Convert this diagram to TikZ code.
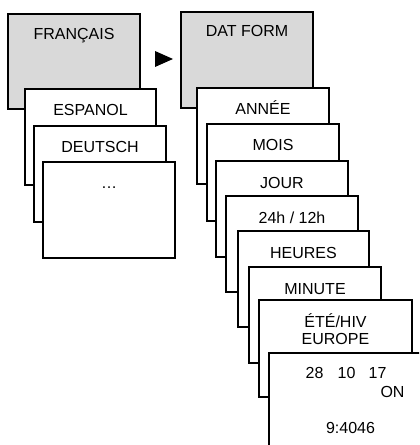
\documentclass[tikz,border=0pt]{standalone}
\usepackage{fontspec}
\setmainfont{Liberation Sans}
\definecolor{boxgray}{RGB}{217,217,217}
\tikzset{
  box/.style={draw=black, line width=1.6bp, fill=white, inner sep=0pt, outer sep=0pt, anchor=north west},
  gbox/.style={box, fill=boxgray},
  lbl/.style={anchor=base, inner sep=0pt, font=\fontsize{16bp}{18bp}\selectfont}
}
\begin{document}
\begin{tikzpicture}[x=1bp,y=-1bp]
\useasboundingbox (0,0) rectangle (419,445);
\clip (0,0) rectangle (419,445);
% left stack
\node[gbox, minimum width=132bp, minimum height=95bp] (fr) at (8,14) {};
\node[lbl] (tfr) at ([yshift=-26bp]fr.north) {FRANÇAIS};
\node[box, minimum width=131bp, minimum height=96bp] (es) at (25,89) {};
\node[lbl] (tes) at ([yshift=-27bp]es.north) {ESPANOL};
\node[box, minimum width=132bp, minimum height=96bp] (de) at (34,126) {};
\node[lbl] (tde) at ([yshift=-27bp]de.north) {DEUTSCH};
\node[box, minimum width=132bp, minimum height=96bp] (etc) at (43,162) {};
\node[lbl] (tetc) at ([yshift=-26bp]etc.north) {…};
% arrow
\coordinate (a1) at (155,51);
\coordinate (a2) at (155,67);
\coordinate (a3) at (173,59);
\fill[black] (a1) -- (a3) -- (a2) -- cycle;
% right stack
\node[gbox, minimum width=132bp, minimum height=96bp] (dat) at (181,12) {};
\node[lbl] (tdat) at ([yshift=-25bp]dat.north) {DAT FORM};
\node[box, minimum width=132bp, minimum height=96bp] (an) at (197,88) {};
\node[lbl] (tan) at ([yshift=-27bp]an.north) {ANNÉE};
\node[box, minimum width=132bp, minimum height=97bp] (mo) at (207,124) {};
\node[lbl] (tmo) at ([yshift=-27bp]mo.north) {MOIS};
\node[box, minimum width=132bp, minimum height=96bp] (jo) at (216,161) {};
\node[lbl] (tjo) at ([yshift=-27bp]jo.north) {JOUR};
\node[box, minimum width=132bp, minimum height=96bp] (hh) at (226,196) {};
\node[lbl] (thh) at ([yshift=-27bp]hh.north) {24h / 12h};
\node[box, minimum width=131bp, minimum height=96bp] (he) at (238,231) {};
\node[lbl] (the) at ([yshift=-27bp]he.north) {HEURES};
\node[box, minimum width=132bp, minimum height=96bp] (mi) at (249,267) {};
\node[lbl] (tmi) at ([yshift=-27bp]mi.north) {MINUTE};
\node[box, minimum width=153bp, minimum height=97bp] (et) at (259,300) {};
\node[lbl] (tet1) at ([yshift=-27bp]et.north) {ÉTÉ/HIV};
\node[lbl] (tet2) at ([yshift=-44bp]et.north) {EUROPE};
\node[box, minimum width=170bp, minimum height=110bp] (la) at (269,353) {};
\node[lbl] (n28) at (314.5,378) {28};
\node[lbl] (n10) at (346.5,378) {10};
\node[lbl] (n17) at (377.5,378) {17};
\node[lbl] (non) at (392.5,397) {ON};
\node[lbl] (ntime) at (350.5,433) {9:4046};
\end{tikzpicture}
\end{document}
